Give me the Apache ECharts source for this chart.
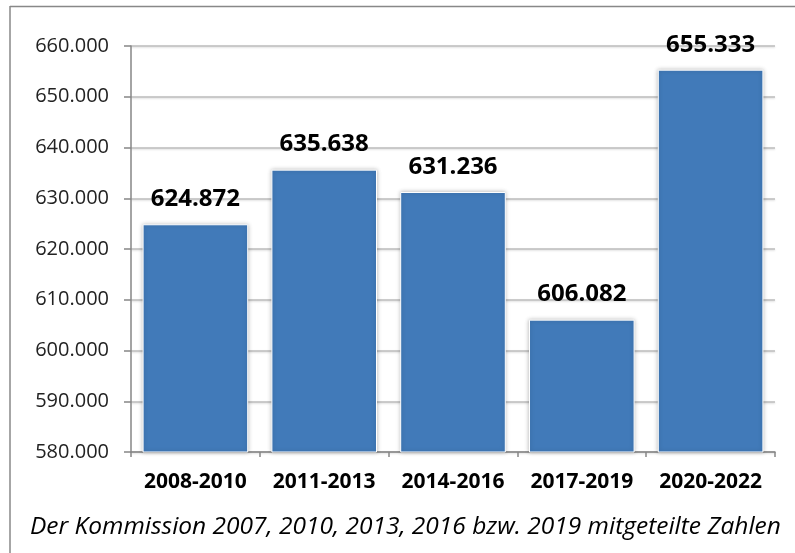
<!DOCTYPE html>
<html>
<head>
<meta charset="utf-8">
<script src="https://cdn.jsdelivr.net/npm/echarts@6/dist/echarts.min.js"></script>
<style>
html,body{margin:0;padding:0;background:#fff;}
#chart{width:795px;height:553px;}
</style>
</head>
<body>
<div id="chart"></div>
<script>
const categories = ['2008-2010', '2011-2013', '2014-2016', '2017-2019', '2020-2022'];
const values = [624.872, 635.638, 631.236, 606.082, 655.333];
const yMin = 580, yMax = 660, yStep = 10;
const footnote = 'Der Kommission 2007, 2010, 2013, 2016 bzw. 2019 mitgeteilte Zahlen';

const fmt = v => v.toFixed(3);

const chart = echarts.init(document.getElementById('chart'), null, {renderer: 'canvas'});
chart.setOption({
  animation: false,
  backgroundColor: '#fff',
  grid: {left: 131, top: 46, right: 20, bottom: 101, containLabel: false},
  xAxis: {
    type: 'category',
    data: categories,
    axisLine: {lineStyle: {color: '#868686', width: 1.5}},
    axisTick: {show: true, length: 5, lineStyle: {color: '#868686', width: 1.5}},
    axisLabel: {interval: 0, hideOverlap: false, margin: 20, color: '#000', fontFamily: 'Open Sans', fontWeight: 'bold', fontSize: 21},
    splitLine: {show: false}
  },
  yAxis: {
    type: 'value',
    min: yMin, max: yMax, interval: yStep,
    axisLine: {show: true, lineStyle: {color: '#868686', width: 1.5}},
    axisTick: {show: true, inside: false, length: 7, lineStyle: {color: '#868686', width: 1.5}},
    axisLabel: {margin: 22, color: '#222', fontFamily: 'Open Sans', fontSize: 20, formatter: fmt},
    splitLine: {show: true, lineStyle: {color: '#bdbdbd', width: 1.5, shadowColor: 'rgba(0,0,0,0.15)', shadowBlur: 2, shadowOffsetY: 1}}
  },
  series: [{
    type: 'bar',
    data: values,
    barCategoryGap: '18%',
    itemStyle: {color: '#417ab9', borderColor: '#ffffff', borderWidth: 1, shadowColor: 'rgba(0,0,0,0.25)', shadowBlur: 4},
    label: {
      show: true, position: 'top', distance: 13,
      color: '#000', fontFamily: 'Open Sans', fontWeight: 'bold', fontSize: 24,
      formatter: p => fmt(p.value)
    }
  }],
  graphic: [
    {type: 'line', shape: {x1: 10, y1: 6.5, x2: 795, y2: 6.5}, style: {stroke: '#888', lineWidth: 1.5}},
    {type: 'line', shape: {x1: 10, y1: 6, x2: 10, y2: 553}, style: {stroke: '#888', lineWidth: 1.5}},
    {type: 'text', left: 30, top: 515, style: {text: footnote, fill: '#000', font: 'italic 24.5px "Open Sans"'}}
  ]
});
</script>
</body>
</html>
